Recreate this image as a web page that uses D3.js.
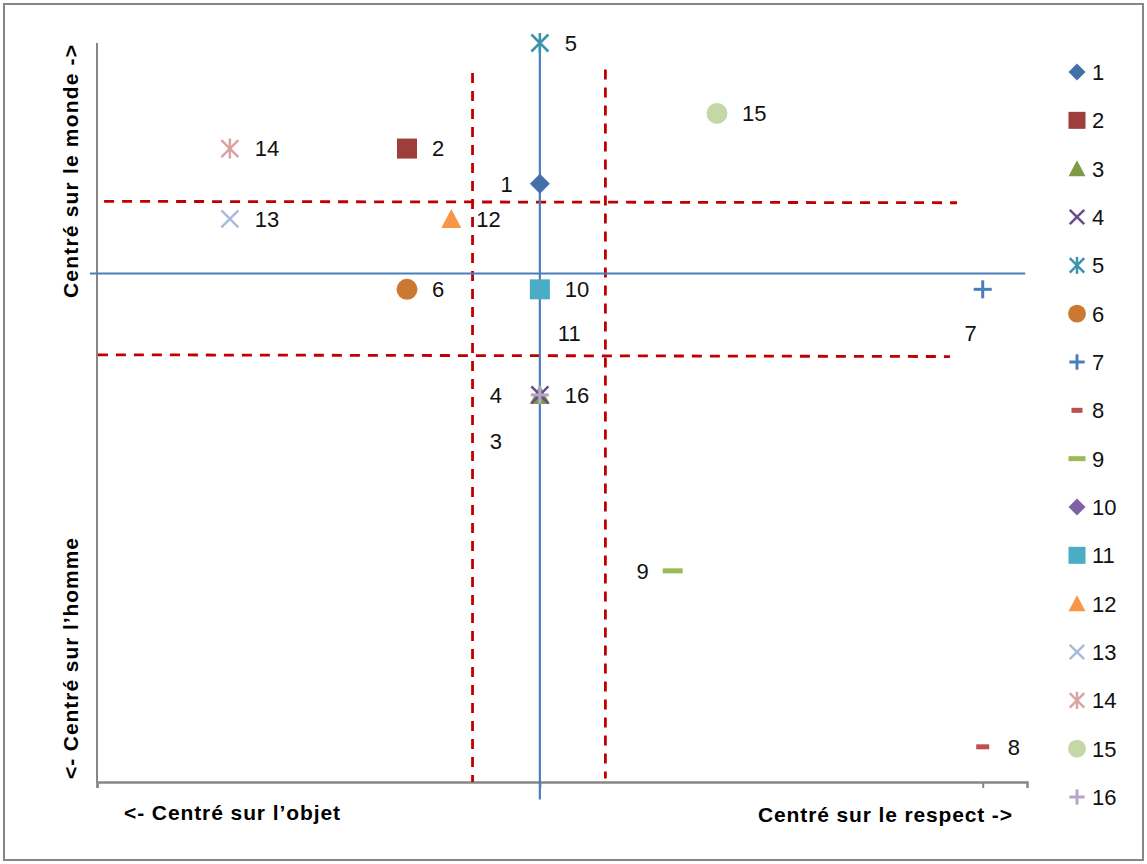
<!DOCTYPE html>
<html>
<head>
<meta charset="utf-8">
<script src="https://cdn.jsdelivr.net/npm/d3@7"></script>
<style>
  body { margin: 0; background: #fff; }
  svg { display: block; font-family: "Liberation Sans", Arial, sans-serif; }
</style>
</head>
<body>
<div id="chart"></div>
<script>
// series (one point each)
const seriesNames = ["1", "2", "3", "4", "5", "6", "7", "8", "9", "10", "11", "12", "13", "14", "15", "16"];
const xValues = [0, -1.5, 0, 0, 0, -1.5, 5, 5, 1.5, 0, 0, -1, -3.5, -3.5, 2, 0];
const yValues = [3, 4, -3, -3, 7, 0, 0, -13, -8, 0, 0, 2, 2, 4, 5, -3];
const markerShapes = ["diamond", "square", "triangle", "x", "star", "circle", "plus", "dashShort",
  "dash", "diamond", "square", "triangle", "x", "star", "circle", "plus"];
const markerColors = ["#4470aa", "#9e3d3a", "#7d9a45", "#694c8c", "#3a93aa", "#cb7832", "#4a7ebb", "#c0504d",
  "#9bbb59", "#7f62a1", "#4bacc6", "#f79646", "#a9bbdb", "#d9a3a1", "#c4d7a4", "#b5a6c8"];

// axis extent and ticks
const xDomain = [-5, 5.5];
const yDomain = [-14, 7];
const xTicks = [-5, 0, 5];

// quadrant guides drawn over the plot (data units)
const blueLines = [
  [[-5.08, 0.45], [5.48, 0.45]],
  [[0, 7.1], [0, -14.5]]
];
const redDashed = [
  [[-0.76, 6.15], [-0.76, -14]],
  [[0.74, 6.25], [0.74, -13.9]],
  [[-4.92, 2.5], [4.71, 2.46]],
  [[-4.99, -1.86], [4.63, -1.91]]
];

const axisTitles = {
  left: "<- Centré sur l’objet",
  right: "Centré sur le respect ->",
  top: "Centré sur le monde ->",
  bottom: "<- Centré sur l’homme"
};

class QuadrantScatter {
  constructor(_config) {
    this.config = {
      parentElement: _config.parentElement,
      containerWidth: 1147,
      containerHeight: 864,
      plot: { left: 97, right: 1027, top: 43, bottom: 782 }
    };
    this.initVis();
  }

  initVis() {
    let vis = this;
    const p = vis.config.plot;

    vis.x = d3.scaleLinear().domain(xDomain).range([p.left, p.right]);
    vis.y = d3.scaleLinear().domain(yDomain).range([p.bottom, p.top]);

    vis.svg = d3.select(vis.config.parentElement).append("svg")
      .attr("width", vis.config.containerWidth)
      .attr("height", vis.config.containerHeight);

    // chart area border
    vis.svg.append("rect")
      .attr("x", 4).attr("y", 4)
      .attr("width", 1139).attr("height", 856)
      .attr("fill", "#fff")
      .attr("stroke", "#868686")
      .attr("stroke-width", 2);

    vis.renderVis();
  }

  marker(g, shape, color, s) {
    if (shape === "diamond") {
      g.append("path").attr("d", `M0,${-10 * s}L${10 * s},0L0,${10 * s}L${-10 * s},0Z`).attr("fill", color);
    } else if (shape === "square") {
      g.append("rect").attr("x", -10 * s).attr("y", -10 * s)
        .attr("width", 20 * s).attr("height", 20 * s).attr("fill", color);
    } else if (shape === "triangle") {
      g.append("path").attr("d", `M0,${-10 * s}L${10 * s},${9 * s}L${-10 * s},${9 * s}Z`).attr("fill", color);
    } else if (shape === "circle") {
      g.append("circle").attr("r", 10.5 * s).attr("fill", color);
    } else if (shape === "dash" || shape === "dashShort") {
      const w = shape === "dash" ? 20 : 13;
      g.append("rect").attr("x", -w * s / 2).attr("y", -2.5)
        .attr("width", w * s).attr("height", 5).attr("fill", color);
    } else {
      const segs = [];
      const a = 8.5 * s;
      if (shape === "x" || shape === "star") {
        segs.push([-a, -a, a, a], [-a, a, a, -a]);
      }
      if (shape === "star") segs.push([0, -10 * s, 0, 10 * s]);
      if (shape === "plus") segs.push([-9 * s, 0, 9 * s, 0], [0, -9 * s, 0, 9 * s]);
      g.selectAll("line").data(segs).join("line")
        .attr("x1", d => d[0]).attr("y1", d => d[1])
        .attr("x2", d => d[2]).attr("y2", d => d[3])
        .attr("stroke", color)
        .attr("stroke-width", shape === "plus" ? 3 : 2.5);
    }
  }

  renderVis() {
    let vis = this;
    const p = vis.config.plot;
    const line = d3.line().x(d => vis.x(d[0])).y(d => vis.y(d[1]));

    // axes: vertical line on the left, horizontal at the bottom with 3 ticks
    vis.svg.append("line")
      .attr("x1", vis.x(xDomain[0])).attr("x2", vis.x(xDomain[0]))
      .attr("y1", p.top).attr("y2", p.bottom)
      .attr("stroke", "#868686").attr("stroke-width", 2);
    const xAxis = d3.axisBottom(vis.x).tickValues(xTicks).tickSize(6).tickFormat("");
    const gx = vis.svg.append("g").attr("transform", `translate(0,${vis.y(yDomain[0])})`).call(xAxis);
    gx.select(".domain").attr("stroke", "#868686").attr("stroke-width", 2.5);
    gx.selectAll(".tick line").attr("stroke", "#868686").attr("stroke-width", 2);

    vis.svg.append("g").selectAll("path")
      .data(redDashed).join("path")
      .attr("d", line)
      .attr("fill", "none")
      .attr("stroke", "#c00000")
      .attr("stroke-width", 2.8)
      .attr("stroke-dasharray", "10,8");

    vis.svg.append("g").selectAll("path")
      .data(blueLines).join("path")
      .attr("d", line)
      .attr("fill", "none")
      .attr("stroke", "#4a7ebb")
      .attr("stroke-width", 2.2);

    const points = seriesNames.map((name, i) => ({
      name: name, x: xValues[i], y: yValues[i], shape: markerShapes[i], color: markerColors[i]
    }));

    points.forEach(d => {
      const g = vis.svg.append("g").attr("transform", `translate(${vis.x(d.x)},${vis.y(d.y)})`);
      vis.marker(g, d.shape, d.color, 1);
    });

    // data labels (series name); a few were moved by hand in the original
    const labelPlace = {
      "1": [-27, 0, "end"], "3": [-44, 46, "middle"], "4": [-44, 0, "middle"],
      "7": [-12, 44, "middle"], "9": [-24, 0, "end"], "11": [18, 44, "start"]
    };
    vis.svg.append("g").selectAll("text")
      .data(points).join("text")
      .attr("x", d => vis.x(d.x) + (labelPlace[d.name] ? labelPlace[d.name][0] : 25))
      .attr("y", d => vis.y(d.y) + (labelPlace[d.name] ? labelPlace[d.name][1] : 0))
      .attr("dy", "0.36em")
      .attr("text-anchor", d => labelPlace[d.name] ? labelPlace[d.name][2] : "start")
      .attr("font-size", 22)
      .attr("fill", "#111")
      .text(d => d.name);

    // axis titles
    const title = vis.svg.append("g").attr("font-size", 21).attr("font-weight", "bold").attr("fill", "#000");
    title.append("text").attr("x", 124).attr("y", 820)
      .attr("textLength", 216).attr("lengthAdjust", "spacing").text(axisTitles.left);
    title.append("text").attr("x", 1012).attr("y", 822).attr("text-anchor", "end")
      .attr("textLength", 254).attr("lengthAdjust", "spacing").text(axisTitles.right);
    title.append("text").attr("transform", "translate(78,298) rotate(-90)")
      .attr("textLength", 253).attr("lengthAdjust", "spacing").text(axisTitles.top);
    title.append("text").attr("transform", "translate(78,779) rotate(-90)")
      .attr("textLength", 241).attr("lengthAdjust", "spacing").text(axisTitles.bottom);

    // legend
    const ly = d3.scalePoint().domain(seriesNames).range([72, 797]);
    const legend = vis.svg.append("g");
    points.forEach(d => {
      const g = legend.append("g").attr("transform", `translate(1077,${ly(d.name)})`);
      vis.marker(g, d.shape, d.color, 0.85);
      g.append("text").attr("x", 15).attr("dy", "0.36em")
        .attr("font-size", 22).attr("fill", "#111").text(d.name);
    });
  }
}

new QuadrantScatter({ parentElement: "#chart" });
</script>
</body>
</html>
